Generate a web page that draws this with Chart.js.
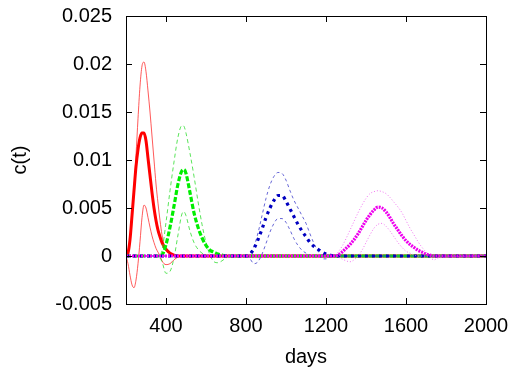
<!DOCTYPE html>
<html>
<head>
<meta charset="utf-8">
<script src="https://cdn.jsdelivr.net/npm/chart.js@4/dist/chart.umd.min.js"></script>
<style>
  html, body { margin: 0; padding: 0; background: #fff; }
  #wrap { width: 514px; height: 373px; }
</style>
</head>
<body>
<div id="wrap"><canvas id="chart"></canvas></div>
<script>
// days and c(t)
const redDays = [200, 210, 220, 230, 240, 250, 260, 270, 280, 290, 300, 310, 320, 330, 340, 350, 360, 370, 380, 390, 400, 420, 440, 460, 480, 2000];
const redMid  = [0, 0.0003, 0.0017, 0.0042, 0.0068, 0.0093, 0.0111, 0.0123, 0.0128, 0.0128, 0.0120, 0.0102, 0.0084, 0.0066, 0.0050, 0.0037, 0.0027, 0.0020, 0.0014, 0.0010, 0.0007, 0.0003, 0.0001, 0, 0, 0];
const redHigh = [0, 0.0004, 0.0018, 0.0040, 0.0070, 0.0105, 0.0143, 0.0177, 0.0198, 0.0202, 0.0192, 0.0172, 0.0150, 0.0125, 0.0100, 0.0075, 0.0055, 0.0037, 0.0022, 0.0012, 0.0007, 0.0003, 0.0001, 0, 0, 0];
const redLow  = [0, -0.0008, -0.0020, -0.0030, -0.0033, -0.0025, -0.0008, 0.0015, 0.0040, 0.0053, 0.0050, 0.0040, 0.0030, 0.0021, 0.0014, 0.0008, 0.0004, 0, -0.0005, -0.0008, -0.0009, -0.0008, -0.0004, -0.0001, 0, 0];

const greenDays = [200, 360, 380, 400, 420, 440, 460, 480, 490, 500, 520, 540, 560, 580, 600, 620, 640, 660, 680, 700, 720, 2000];
const greenMid  = [0, 0, 0.0001, 0.0012, 0.0030, 0.0052, 0.0075, 0.0089, 0.0090, 0.0086, 0.0066, 0.0045, 0.0030, 0.0019, 0.0011, 0.0006, 0.0004, 0.0002, 0.0001, 0, 0, 0];
const greenHigh = [0, 0, 0.0006, 0.0035, 0.0068, 0.0098, 0.0124, 0.0136, 0.0135, 0.0128, 0.0107, 0.0083, 0.0057, 0.0033, 0.0014, 0.0001, -0.0006, -0.0007, -0.0005, -0.0002, 0, 0];
const greenLow  = [0, 0, -0.0006, -0.0018, -0.0016, -0.0002, 0.0022, 0.0044, 0.0046, 0.0042, 0.0026, 0.0014, 0.0007, 0.0003, 0.0001, 0, 0, 0, 0, 0, 0, 0];

const blueDays = [200, 800, 820, 840, 860, 880, 900, 920, 940, 960, 980, 1000, 1020, 1040, 1060, 1080, 1100, 1120, 1140, 1160, 1180, 1200, 1220, 1240, 2000];
const blueMid  = [0, 0, 0.0002, 0.0008, 0.0017, 0.0028, 0.0040, 0.0050, 0.0058, 0.0063, 0.0063, 0.0057, 0.0049, 0.0041, 0.0033, 0.0026, 0.0020, 0.0014, 0.0010, 0.0007, 0.0004, 0.0002, 0.0001, 0, 0];
const blueHigh = [0, 0, 0.0003, 0.0010, 0.0024, 0.0042, 0.0060, 0.0074, 0.0083, 0.0087, 0.0086, 0.0079, 0.0068, 0.0058, 0.0050, 0.0042, 0.0034, 0.0023, 0.0013, 0.0005, -0.0003, -0.0003, -0.0001, 0, 0];
const blueLow  = [0, 0, -0.0003, -0.0008, -0.0006, 0.0002, 0.0013, 0.0025, 0.0034, 0.0039, 0.0039, 0.0035, 0.0027, 0.0018, 0.0011, 0.0006, 0.0003, 0.0001, 0, 0, 0, 0, 0, 0, 0];

const magentaDays = [200, 1240, 1260, 1280, 1300, 1320, 1340, 1360, 1380, 1400, 1420, 1440, 1460, 1480, 1500, 1520, 1540, 1560, 1580, 1600, 1620, 1640, 1660, 1680, 1700, 1720, 1740, 1760, 2000];
const magentaMid  = [0, 0, 0.0001, 0.0004, 0.0008, 0.0012, 0.0017, 0.0023, 0.0030, 0.0037, 0.0043, 0.0048, 0.0051, 0.0050, 0.0046, 0.0040, 0.0033, 0.0027, 0.0021, 0.0016, 0.0012, 0.0009, 0.0006, 0.0004, 0.0002, 0.0001, 0, 0, 0];
const magentaHigh = [0, 0, 0.0004, 0.0010, 0.0018, 0.0027, 0.0036, 0.0045, 0.0053, 0.0060, 0.0065, 0.0067, 0.0068, 0.0067, 0.0065, 0.0061, 0.0056, 0.0051, 0.0045, 0.0037, 0.0029, 0.0022, 0.0015, 0.0009, 0.0004, -0.0001, -0.0004, -0.0002, 0];
const magentaLow  = [0, 0, -0.0001, -0.0003, -0.0005, -0.0006, -0.0004, 0, 0.0006, 0.0014, 0.0022, 0.0029, 0.0033, 0.0034, 0.0031, 0.0026, 0.0020, 0.0014, 0.0009, 0.0005, 0.0003, 0.0001, 0, 0, 0, 0, 0, 0, 0];

const xTicks = [400, 800, 1200, 1600, 2000];
const yTicks = [-0.005, 0, 0.005, 0.01, 0.015, 0.02, 0.025];

const FONT = 'Liberation Sans, Arial, sans-serif';

function pts(days, vals) {
  return days.map((d, i) => ({ x: d, y: vals[i] }));
}

function line(days, vals, color, width, dash) {
  return {
    data: pts(days, vals),
    borderColor: color,
    borderWidth: width,
    borderDash: dash,
    pointRadius: 0,
    cubicInterpolationMode: 'monotone',
    fill: false,
  };
}

// gnuplot style frame with inward ticks on all four sides
const frameTicks = {
  id: 'frameTicks',
  afterDraw(chart) {
    const { ctx, chartArea: a, scales } = chart;
    const len = 6;
    ctx.save();
    ctx.strokeStyle = '#000';
    ctx.lineWidth = 1;
    ctx.setLineDash([]);
    ctx.strokeRect(a.left + 0.5, a.top + 0.5, a.right - a.left, a.bottom - a.top);
    ctx.beginPath();
    xTicks.forEach((v) => {
      const px = Math.round(scales.x.getPixelForValue(v)) + 0.5;
      ctx.moveTo(px, a.bottom); ctx.lineTo(px, a.bottom - len);
      ctx.moveTo(px, a.top); ctx.lineTo(px, a.top + len);
    });
    yTicks.forEach((v) => {
      const py = Math.round(scales.y.getPixelForValue(v)) + 0.5;
      ctx.moveTo(a.left, py); ctx.lineTo(a.left + len, py);
      ctx.moveTo(a.right, py); ctx.lineTo(a.right - len, py);
    });
    ctx.stroke();
    ctx.restore();
  },
};

// first dataset ends up on top, so the last-plotted group goes first
new Chart(document.getElementById('chart'), {
  type: 'line',
  data: {
    datasets: [
      line(magentaDays, magentaMid, '#ee00ee', 3.2, [2, 1]),
      line(magentaDays, magentaHigh, '#ee55ee', 0.8, [1, 2]),
      line(magentaDays, magentaLow, '#ee55ee', 0.8, [1, 2]),
      line(blueDays, blueMid, '#0000c0', 3.2, [3, 4]),
      line(blueDays, blueHigh, '#4040cc', 0.8, [3, 3]),
      line(blueDays, blueLow, '#4040cc', 0.8, [3, 3]),
      line(greenDays, greenMid, '#00ee00', 3.2, [5, 2]),
      line(greenDays, greenHigh, '#30dd30', 0.8, [4, 3]),
      line(greenDays, greenLow, '#30dd30', 0.8, [4, 3]),
      line(redDays, redMid, '#ff0000', 3, []),
      line(redDays, redHigh, '#ff3030', 0.8, []),
      line(redDays, redLow, '#ff3030', 0.8, []),
    ],
  },
  options: {
    responsive: true,
    maintainAspectRatio: false,
    animation: false,
    events: [],
    layout: {
      padding: { top: 16, right: 28, bottom: 0, left: 0 },
    },
    plugins: {
      legend: { display: false },
      tooltip: { enabled: false },
    },
    scales: {
      x: {
        type: 'linear',
        min: 200,
        max: 2000,
        afterBuildTicks: (scale) => {
          scale.ticks = xTicks.map((v) => ({ value: v }));
        },
        afterFit: (scale) => {
          scale.height = 69;
          scale.paddingLeft = 0;
          scale.paddingRight = 0;
        },
        grid: { display: false, drawTicks: false },
        border: { display: false },
        ticks: {
          padding: 10,
          color: '#000',
          font: { family: FONT, size: 20 },
          maxRotation: 0,
          callback: (v) => String(v),
        },
        title: {
          display: true,
          text: 'days',
          color: '#000',
          font: { family: FONT, size: 20 },
          padding: { top: 0, bottom: 4 },
        },
      },
      y: {
        min: -0.005,
        max: 0.025,
        afterBuildTicks: (scale) => {
          scale.ticks = yTicks.map((v) => ({ value: v }));
        },
        afterFit: (scale) => {
          scale.width = 126;
          scale.paddingTop = 0;
          scale.paddingBottom = 0;
        },
        grid: { display: false, drawTicks: false },
        border: { display: false },
        ticks: {
          padding: 14,
          color: '#000',
          font: { family: FONT, size: 20 },
          callback: (v) => String(Number(v.toFixed(3))),
        },
        title: {
          display: true,
          text: 'c(t)',
          color: '#000',
          font: { family: FONT, size: 20 },
          padding: { top: 8, bottom: 0 },
        },
      },
    },
  },
  plugins: [frameTicks],
});
</script>
</body>
</html>
